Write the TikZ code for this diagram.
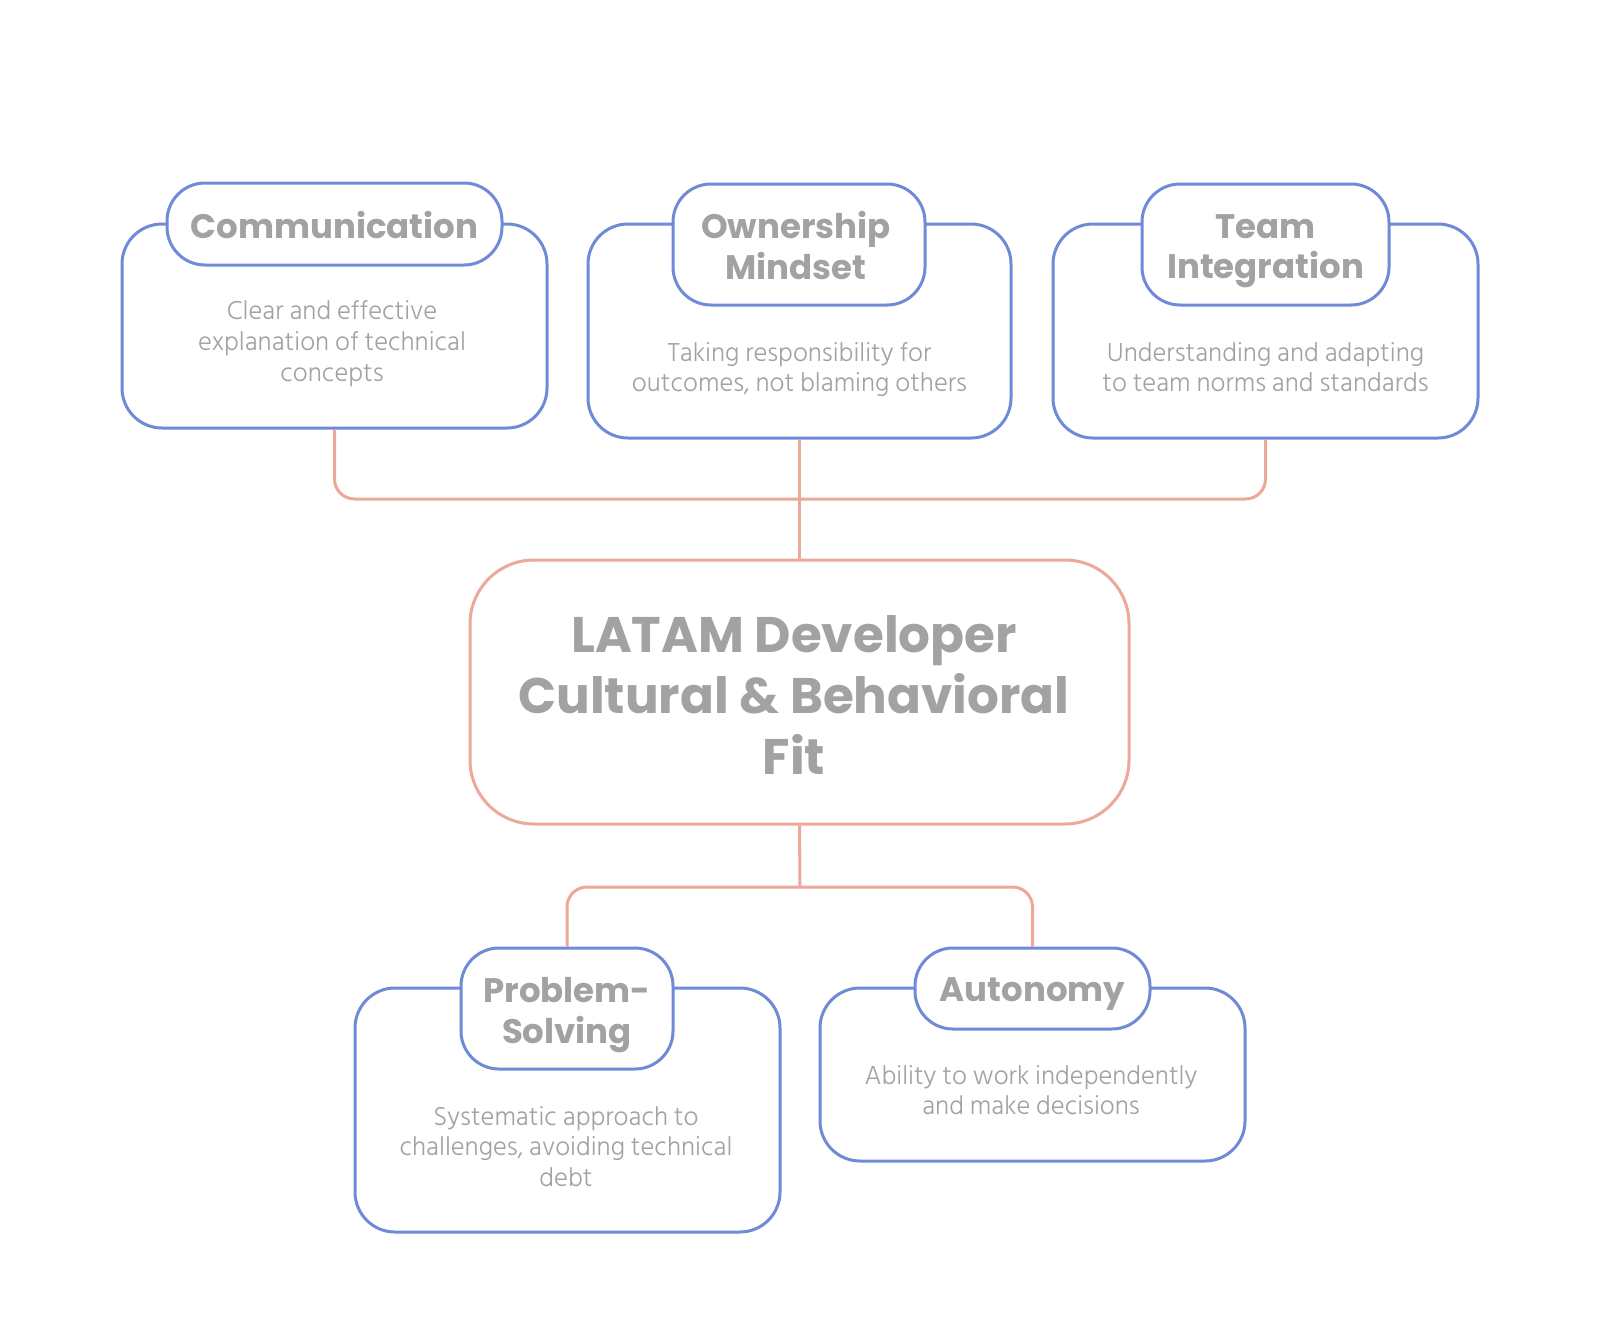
\documentclass[tikz,border=0pt]{standalone}
\usepackage{fontspec}
\setmainfont{Poppins}
\IfFontExistsTF{Hind Siliguri Light}{\newfontfamily\bodyfont{Hind Siliguri Light}}{\newfontfamily\bodyfont{Hind Siliguri}}
\definecolor{boxblue}{HTML}{6F8AD6}
\definecolor{linkpink}{HTML}{ECA898}
\definecolor{txtgray}{HTML}{A2A2A2}
\definecolor{bodygray}{HTML}{A2A2A2}
\tikzset{
  outerbox/.style={draw=boxblue, line width=3pt, rounded corners=40pt, fill=white, inner sep=0pt},
  pillbox/.style={draw=boxblue, line width=3pt, rounded corners=38pt, fill=white, inner sep=0pt},
  pilltext/.style={text=txtgray, font=\fontsize{34}{40.8}\selectfont\bfseries, align=center, inner sep=0pt, text depth=0pt},
  bodytext/.style={text=bodygray, font=\bodyfont\fontsize{26.6}{30.6}\selectfont, align=center, inner sep=0pt, text depth=0pt},
  hubbox/.style={draw=linkpink, line width=3pt, rounded corners=64pt, fill=white, inner sep=0pt},
  hubtext/.style={text=txtgray, font=\fontsize{50}{61}\selectfont\bfseries, align=center, inner sep=0pt, text depth=0pt},
  conn/.style={draw=linkpink, line width=3pt, rounded corners=20pt}
}
\begin{document}
\begin{tikzpicture}[x=1pt,y=-1pt]
\useasboundingbox (0,0) rectangle (1600,1335);
% hub
\node[hubbox, minimum width=659pt, minimum height=264pt] (hub) at (799.5,692) {};
\node[hubtext] (hubt) at (794,694.5) {LATAM Developer\\Cultural \& Behavioral\\Fit};
% outer boxes
\node[outerbox, minimum width=425pt, minimum height=204pt] (comm) at (334.5,326) {};
\node[outerbox, minimum width=423pt, minimum height=214pt] (own) at (799.5,331) {};
\node[outerbox, minimum width=425pt, minimum height=214pt] (team) at (1265.5,331) {};
\node[outerbox, minimum width=425pt, minimum height=244pt] (prob) at (567.5,1110) {};
\node[outerbox, minimum width=425pt, minimum height=173pt] (auto) at (1032.5,1074.5) {};
% pills
\node[pillbox, minimum width=335pt, minimum height=82pt] (commp) at (334.5,224) {};
\node[pillbox, minimum width=252pt, minimum height=121pt] (ownp) at (799,244.5) {};
\node[pillbox, minimum width=247pt, minimum height=121pt] (teamp) at (1265.5,244.5) {};
\node[pillbox, minimum width=212pt, minimum height=121pt] (probp) at (567,1008.5) {};
\node[pillbox, minimum width=235pt, minimum height=81pt] (autop) at (1032.5,988.5) {};
% pill titles
\node[pilltext] (commt) at (334.5,225) {Communication};
\node[pilltext] (ownt) at (796,245) {Ownership\\Mindset};
\node[pilltext] (teamt) at (1265.5,246.5) {Team\\Integration};
\node[pilltext] (probt) at (567,1010.5) {Problem-\\Solving};
\node[pilltext] (autot) at (1032.5,990) {Autonomy};
% body texts
\node[bodytext] (commb) at (332,341) {Clear and effective\\explanation of technical\\concepts};
\node[bodytext] (ownb) at (799.5,367) {Taking responsibility for\\outcomes, not blaming others};
\node[bodytext] (teamb) at (1265.5,367) {Understanding and adapting\\to team norms and standards};
\node[bodytext] (probb) at (566,1146.5) {Systematic approach to\\challenges, avoiding technical\\debt};
\node[bodytext] (autob) at (1031,1090) {Ability to work independently\\and make decisions};
% connectors
\coordinate (topbar) at (800,499);
\coordinate (botbar) at (800,887);
\draw[conn] (comm.south) |- (topbar) -| (team.south);
\draw[conn] (own.south) -- (hub.north);
\draw[conn] (hub.south) -- (botbar);
\draw[conn] (probp.north) |- (botbar) -| (autop.north);
\end{tikzpicture}
\end{document}
